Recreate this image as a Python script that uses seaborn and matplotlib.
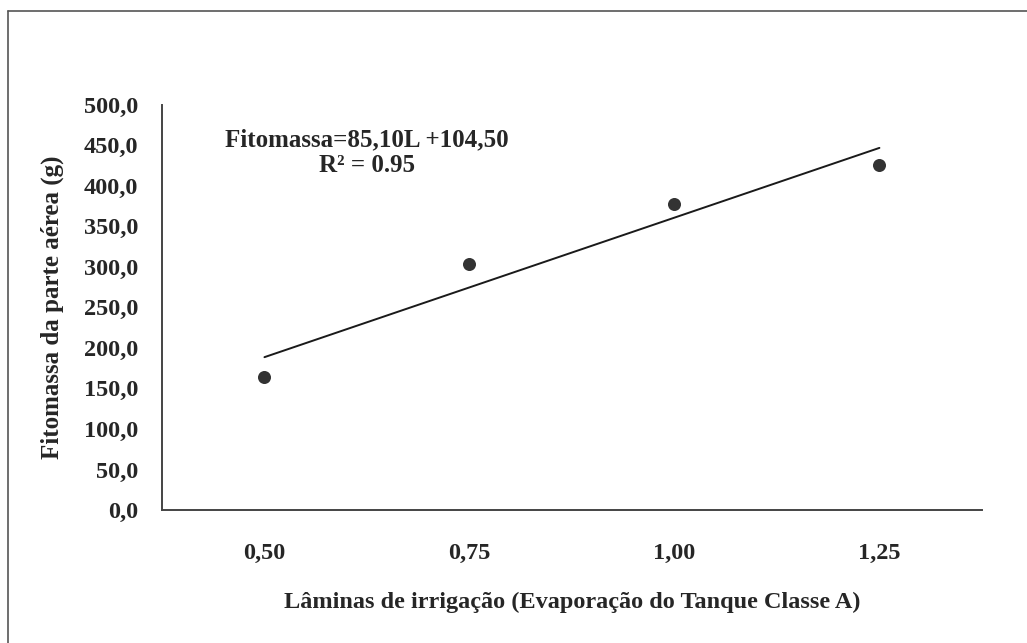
import numpy as np
import pandas as pd
import matplotlib
matplotlib.use('Agg')
import matplotlib.pyplot as plt
import seaborn as sns
from matplotlib.ticker import FuncFormatter

# dados
laminas = [0.50, 0.75, 1.00, 1.25]
fitomassa = [164.0, 303.0, 378.0, 426.0]
x_ticks = [0.50, 0.75, 1.00, 1.25]
y_ticks = [0, 50, 100, 150, 200, 250, 300, 350, 400, 450, 500]
equacao = 'Fitomassa=85,10L +104,50'
r2 = 'R² = 0.95'

df = pd.DataFrame({'Lamina': laminas, 'Fitomassa': fitomassa})

sns.set_style('white')
plt.rcParams['font.family'] = ['Liberation Serif', 'DejaVu Serif']
plt.rcParams['font.weight'] = 'bold'

fig = plt.figure(figsize=(10.27, 6.43), dpi=100)
ax = fig.add_axes([0.1577, 0.2069, 0.7984, 0.63])

sns.regplot(data=df, x='Lamina', y='Fitomassa', ci=None, ax=ax, truncate=True,
            scatter_kws={'s': 88, 'color': 'black', 'zorder': 3, 'linewidths': 0},
            line_kws={'color': '#1a1a1a', 'lw': 1.4})

ax.set_xlim(0.375, 1.375)
ax.set_ylim(0, 500)
ax.set_xticks(x_ticks)
ax.set_yticks(y_ticks)
ax.xaxis.set_major_formatter(FuncFormatter(lambda v, p: f'{v:.2f}'.replace('.', ',')))
ax.yaxis.set_major_formatter(FuncFormatter(lambda v, p: f'{v:.1f}'.replace('.', ',')))
ax.tick_params(axis='both', length=0, labelsize=17.5)
ax.tick_params(axis='x', pad=24)
ax.tick_params(axis='y', pad=17)

for s in ['top', 'right']:
    ax.spines[s].set_visible(False)
for s in ['left', 'bottom']:
    ax.spines[s].set_color('#444444')
    ax.spines[s].set_linewidth(1.4)

ax.set_xlabel('Lâminas de irrigação (Evaporação do Tanque Classe A)', fontsize=17.5,
              fontweight='bold', labelpad=20)
ax.set_ylabel('Fitomassa da parte aérea (g)', fontsize=18, fontweight='bold', labelpad=14)

ax.text(0.25, 0.881, equacao + '\n' + r2, transform=ax.transAxes, ha='center', va='center',
        fontsize=18, fontweight='bold', linespacing=1.15)

# moldura do quadro
fig.add_artist(plt.Line2D([0.008, 0.008], [0.0, 0.983], transform=fig.transFigure,
                          color='#555555', lw=1.2))
fig.add_artist(plt.Line2D([0.008, 1.0], [0.983, 0.983], transform=fig.transFigure,
                          color='#555555', lw=1.2))

fig.savefig('out.png', dpi=100)
